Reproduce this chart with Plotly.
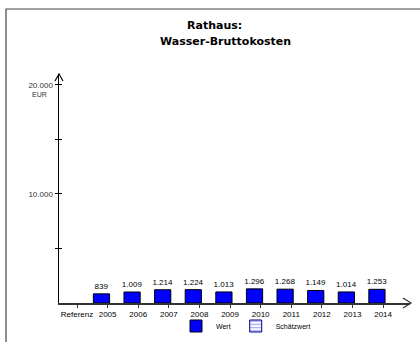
import plotly.graph_objects as go

categories = ["Referenz", "2005", "2006", "2007", "2008", "2009", "2010", "2011", "2012", "2013", "2014"]
wert = [None, 839, 1009, 1214, 1224, 1013, 1296, 1268, 1149, 1014, 1253]
y_tickvals = [5000, 10000, 15000, 20000]
y_ticktext = ["", "10.000", "", "20.000"]

FONT = "Liberation Sans, Arial, sans-serif"
TITLE_FONT = "DejaVu Sans, sans-serif"

W, H = 420, 342
L, R, T, B = 59, 10, 74, 39
pw, ph = W - L - R, H - T - B


def px(x):
    return (x - L) / pw


def py(y):
    return (H - B - y) / ph


fig = go.Figure()
fig.add_trace(go.Bar(
    x=categories, y=wert, name="Wert", width=0.53,
    marker=dict(color="#0000FF", line=dict(color="#000000", width=1)),
    texttemplate="%{y:,}", textposition="outside", cliponaxis=False,
    constraintext="none",
    textfont=dict(size=8, color="#000000", family=FONT),
    hoverinfo="skip",
))
fig.add_trace(go.Bar(
    x=[categories[0]], y=[None], name="Schätzwert",
    marker=dict(color="#FFFFFF", line=dict(color="#000080", width=1),
                pattern=dict(shape="-", fgcolor="#0000FF", size=4, solidity=0.3)),
    showlegend=True, hoverinfo="skip",
))
# dummy trace to activate yaxis2 ticks
fig.add_trace(go.Scatter(x=[categories[0]], y=[None], yaxis="y2", showlegend=False, hoverinfo="skip"))

fig.update_layout(
    width=W, height=H,
    margin=dict(l=L, r=R, t=T, b=B, pad=0, autoexpand=False),
    paper_bgcolor="white", plot_bgcolor="white",
    separators=",.",
    font=dict(family=FONT, size=8, color="#000000"),
    showlegend=True,
    legend=dict(orientation="h", xref="container", yref="container",
                x=246 / W, y=(H - 326) / H, xanchor="center", yanchor="middle",
                font=dict(size=7, family=FONT), itemwidth=30, tracegroupgap=0,
                bgcolor="rgba(0,0,0,0)"),
    xaxis=dict(
        type="category", categoryorder="array", categoryarray=categories,
        range=[-0.588, 10.88], showgrid=False, zeroline=False, automargin=False,
        showline=True, linecolor="#333333", linewidth=1.5,
        ticks="outside", ticklen=3, tickcolor="#333333", tickwidth=1,
        tickfont=dict(size=8, family=FONT), fixedrange=True,
    ),
    yaxis=dict(
        range=[0, 21000], showgrid=False, zeroline=False, automargin=False,
        showline=True, linecolor="#000000", linewidth=1.5,
        tickvals=y_tickvals, ticktext=y_ticktext,
        ticks="outside", ticklen=3, tickcolor="#000000", tickwidth=1,
        tickfont=dict(size=8, family=FONT, color="#333333"), fixedrange=True,
    ),
    yaxis2=dict(
        range=[0, 21000], overlaying="y", side="left", showgrid=False, zeroline=False,
        automargin=False, showline=False, tickvals=y_tickvals, showticklabels=False,
        ticks="inside", ticklen=3, tickcolor="#000000", tickwidth=1, fixedrange=True,
    ),
)

# EUR unit label
fig.add_annotation(x=0, xref="paper", y=20000, yref="y", text="EUR", showarrow=False,
                   xanchor="right", yanchor="middle", xshift=-10, yshift=-10,
                   font=dict(size=7, family=FONT, color="#333333"))

# Title
fig.add_annotation(x=px(214), y=py(25), xref="paper", yref="paper", text="<b>Rathaus:</b>",
                   showarrow=False, xanchor="center", yanchor="middle",
                   font=dict(size=11, family=TITLE_FONT, color="#000000"))
fig.add_annotation(x=px(225), y=py(42), xref="paper", yref="paper", text="<b>Wasser-Bruttokosten</b>",
                   showarrow=False, xanchor="center", yanchor="middle",
                   font=dict(size=11, family=TITLE_FONT, color="#000000"))

# Frame (cut off at right and bottom)
fig.add_shape(type="rect", xref="paper", yref="paper",
              x0=px(6), y0=py(9), x1=px(430), y1=py(360),
              line=dict(color="#444444", width=1.2), fillcolor="rgba(0,0,0,0)", layer="below")

# Axis arrowheads
fig.add_shape(type="path", xref="paper", yref="paper",
              path=f"M {px(55)} {py(81)} L {px(59)} {py(74)} L {px(63)} {py(81)}",
              line=dict(color="#000000", width=1.2))
fig.add_shape(type="path", xref="paper", yref="paper",
              path=f"M {px(403)} {py(298)} L {px(411)} {py(303)} L {px(403)} {py(308)}",
              line=dict(color="#333333", width=1.2))

fig.write_html("out.html", config={"displayModeBar": False, "staticPlot": True},
               post_script="document.body.style.margin='0';document.body.style.padding='0';")
